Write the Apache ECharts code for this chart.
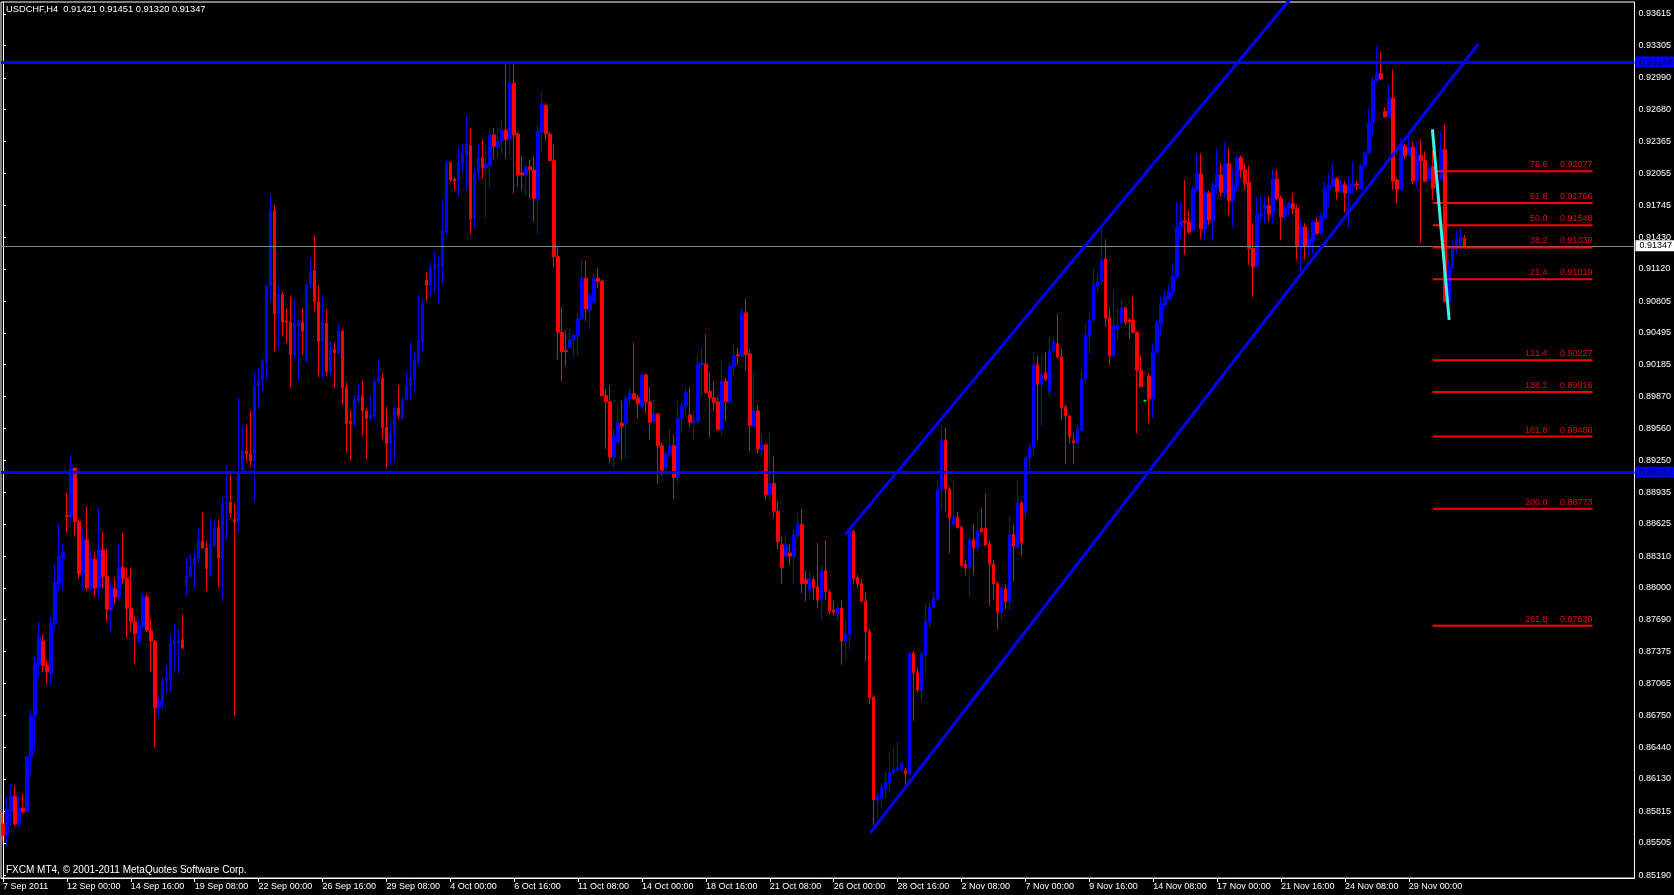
<!DOCTYPE html>
<html><head><meta charset="utf-8">
<script src="https://cdn.jsdelivr.net/npm/echarts@6/dist/echarts.min.js"></script>
<style>html,body{margin:0;padding:0;background:#000;overflow:hidden}#c{width:1674px;height:895px}</style>
</head><body><div id="c"></div>
<script>
const symbolInfo = 'USDCHF,H4  0.91421 0.91451 0.91320 0.91347';
const copyright = 'FXCM MT4, \u00a9 2001-2011 MetaQuotes Software Corp.';
const timeLabels = ['7 Sep 2011','12 Sep 00:00','14 Sep 16:00','19 Sep 08:00','22 Sep 00:00','26 Sep 16:00','29 Sep 08:00','4 Oct 00:00','6 Oct 16:00','11 Oct 08:00','14 Oct 00:00','18 Oct 16:00','21 Oct 08:00','26 Oct 00:00','28 Oct 16:00','2 Nov 08:00','7 Nov 00:00','9 Nov 16:00','14 Nov 08:00','17 Nov 00:00','21 Nov 16:00','24 Nov 08:00','29 Nov 00:00'];
const barsPerLabel = 16;
const slotCount = 409;
const priceTicks = [0.93615,0.93305,0.92990,0.92680,0.92365,0.92055,0.91745,0.91430,0.91120,0.90805,0.90495,0.90185,0.89870,0.89560,0.89250,0.88935,0.88625,0.88310,0.88000,0.87690,0.87375,0.87065,0.86750,0.86440,0.86130,0.85815,0.85505,0.85190];
const priceMin = 0.85161, priceMax = 0.93732;

// H4 bars, prices in 1/10000 (pips)
const openPips = [
8569,8558,8581,8596,8569,8584,8581,8635,8675,8725,
8748,8724,8716,8765,8804,8829,8871,8870,8917,8865,
8814,8847,8799,8828,8800,8837,8811,8779,8799,8791,
8820,8809,8780,8767,8747,8762,8791,8758,8748,8683,
8688,8709,8710,8745,8746,8749,8803,8811,8822,8828,
8846,8839,8812,8842,8859,8829,8882,8884,8867,8864,
8914,8934,8931,8924,8998,9003,9021,9095,9169,9068,
9087,9061,9060,9028,9056,9060,9022,9097,9110,9080,
9041,9059,9011,9033,9030,9051,8996,8963,8960,8983,
8988,8973,8965,8968,9002,9005,8957,8941,8950,8976,
8967,8984,8998,9004,9022,9041,9101,9096,9112,9115,
9115,9148,9216,9200,9198,9215,9223,9233,9162,9206,
9221,9211,9213,9243,9231,9237,9248,9239,9294,9244,
9206,9204,9212,9209,9180,9246,9272,9244,9218,9124,
9050,9032,9035,9043,9046,9063,9103,9072,9079,9103,
9100,8988,8982,8928,8942,8961,8960,8985,8990,8986,
8977,9008,8982,8963,8970,8939,8918,8930,8939,8908,
8966,8978,8969,8962,8963,9018,9019,8992,8986,8982,
8955,9002,8982,9016,9028,9027,9069,9029,8958,8973,
8935,8940,8891,8902,8875,8842,8831,8834,8831,8851,
8862,8808,8798,8808,8801,8788,8817,8796,8778,8775,
8780,8748,8754,8855,8810,8804,8787,8757,8693,8592,
8594,8603,8609,8619,8622,8622,8621,8618,8736,8717,
8700,8734,8766,8781,8789,8896,8944,8897,8862,8869,
8859,8823,8820,8847,8839,8858,8858,8843,8823,8804,
8776,8799,8787,8852,8840,8883,8874,8927,8937,9018,
8999,9010,8992,9032,9039,9026,8977,8968,8944,8942,
8954,9004,9046,9062,9095,9100,9122,9064,9027,9053,
9059,9074,9062,9062,9050,9013,8983,9007,8985,9030,
9059,9077,9082,9090,9104,9153,9159,9158,9150,9189,
9205,9151,9186,9159,9192,9204,9186,9215,9179,9192,
9221,9209,9197,9132,9114,9164,9171,9174,9166,9200,
9181,9163,9172,9176,9171,9135,9153,9135,9139,9158,
9147,9162,9190,9193,9200,9188,9194,9186,9193,9195,
9190,9213,9225,9255,9296,9303,9266,9261,9279,9199,
9190,9232,9223,9231,9199,9223,9218,9200,9212,9191,
9200,9229,9080,9113,9132,9135,9142.1];
const highPips = [
8580,8595,8608,8606,8597,8598,8636,8680,8734,8767,
8755,8729,8773,8823,8863,8843,8893,8929,8918,8867,
8858,8880,8838,8836,8879,8855,8838,8804,8810,8843,
8853,8819,8819,8772,8768,8795,8794,8770,8749,8694,
8712,8724,8753,8765,8760,8774,8829,8832,8837,8859,
8874,8845,8868,8866,8867,8888,8920,8911,8883,8986,
8959,8959,8974,9010,9015,9024,9097,9185,9174,9096,
9090,9073,9085,9083,9063,9074,9098,9122,9145,9096,
9085,9073,9041,9040,9058,9053,9001,8974,8988,8999,
9002,8976,8988,9005,9023,9010,8977,8962,8977,8998,
8986,9010,9040,9031,9087,9082,9108,9118,9130,9125,
9180,9218,9217,9202,9232,9234,9263,9250,9212,9233,
9239,9232,9249,9250,9251,9258,9313,9313,9314,9246,
9222,9214,9219,9222,9252,9287,9274,9246,9234,9135,
9075,9052,9053,9048,9069,9122,9120,9088,9108,9112,
9102,8994,8998,8955,8977,8983,8987,8995,9040,8989,
9010,9010,8997,8984,8971,8942,8933,8955,8950,8983,
8982,8997,8996,8972,9028,9036,9048,9011,9002,8987,
9022,9005,9021,9039,9035,9073,9083,9033,9010,8979,
8951,8941,8952,8929,8884,8850,8852,8843,8858,8874,
8877,8817,8815,8811,8844,8821,8846,8798,8788,8785,
8788,8769,8857,8857,8813,8809,8796,8760,8695,8601,
8609,8621,8638,8644,8649,8630,8624,8737,8738,8722,
8737,8785,8785,8797,8905,8959,8957,8899,8905,8874,
8861,8827,8850,8862,8874,8878,8892,8846,8827,8806,
8800,8803,8870,8862,8905,8885,8928,8941,9031,9027,
9027,9031,9045,9046,9068,9034,8979,8969,8951,8960,
9013,9060,9069,9112,9107,9152,9141,9074,9091,9072,
9082,9075,9064,9085,9051,9027,8984,9010,9039,9062,
9085,9091,9096,9116,9178,9177,9199,9170,9193,9225,
9225,9189,9189,9197,9230,9216,9237,9230,9210,9223,
9223,9215,9213,9157,9182,9184,9183,9183,9209,9209,
9184,9176,9178,9186,9175,9160,9157,9149,9160,9162,
9167,9197,9206,9214,9202,9201,9198,9202,9217,9198,
9215,9227,9269,9300,9331,9324,9270,9292,9307,9201,
9240,9234,9241,9236,9236,9239,9227,9212,9228,9205,
9247,9253,9121,9140,9149,9152,9145.1];
const lowPips = [
8552,8548,8567,8567,8566,8579,8580,8617,8641,8713,
8717,8706,8704,8759,8797,8797,8854,8864,8851,8809,
8798,8797,8797,8792,8790,8800,8767,8756,8784,8788,
8803,8751,8757,8726,8746,8759,8757,8718,8644,8673,
8682,8697,8699,8719,8716,8741,8793,8810,8799,8824,
8838,8797,8811,8840,8800,8787,8846,8868,8675,8855,
8913,8923,8919,8884,8976,8992,9003,9082,9031,9035,
9047,9040,8996,9024,9002,9028,9021,9092,9071,9006,
9005,9008,9007,8996,9028,8979,8932,8924,8958,8981,
8948,8926,8964,8966,9001,8946,8917,8920,8923,8966,
8964,8983,8984,8991,9018,9031,9080,9085,9089,9077,
9098,9145,9197,9189,9182,9206,9189,9146,9153,9200,
9200,9162,9192,9220,9220,9225,9220,9222,9186,9193,
9189,9184,9181,9158,9146,9226,9238,9217,9114,9024,
9002,9017,9033,9025,9027,9062,9061,9053,9078,9093,
8987,8936,8922,8917,8941,8926,8927,8979,8984,8966,
8977,8971,8945,8961,8902,8910,8910,8928,8887,8901,
8953,8969,8957,8944,8960,8987,8990,8947,8974,8955,
8949,8963,8981,9007,9018,9026,9013,8934,8957,8932,
8930,8886,8886,8868,8838,8804,8830,8822,8803,8848,
8795,8787,8789,8788,8780,8769,8788,8774,8773,8769,
8725,8728,8740,8803,8800,8786,8728,8686,8568,8575,
8585,8595,8600,8617,8620,8620,8607,8616,8670,8698,
8689,8716,8761,8780,8788,8876,8874,8834,8861,8858,
8820,8813,8792,8813,8837,8854,8841,8782,8788,8759,
8768,8779,8778,8807,8838,8832,8868,8916,8930,8944,
8959,9002,8989,9029,9024,8965,8921,8941,8921,8941,
8953,9001,9029,9060,9090,9097,9056,9018,9026,9043,
9057,9057,9043,9049,8951,8996,8982,8961,8966,9029,
9047,9073,9081,9085,9102,9142,9126,9146,9149,9186,
9142,9140,9155,9139,9186,9183,9181,9165,9153,9188,
9201,9189,9116,9085,9113,9159,9156,9158,9156,9179,
9140,9160,9164,9166,9121,9110,9121,9126,9127,9145,
9144,9161,9173,9192,9180,9186,9167,9153,9185,9189,
9189,9212,9224,9242,9294,9297,9260,9259,9189,9176,
9189,9220,9222,9195,9191,9138,9197,9197,9180,9186,
9198,9079,9062,9112,9127,9132,9132.0];
const closePips = [
8558,8583,8596,8569,8584,8581,8635,8675,8726,8752,
8724,8718,8765,8805,8831,8835,8870,8917,8865,8814,
8847,8800,8828,8800,8837,8811,8779,8801,8791,8820,
8809,8780,8767,8755,8763,8791,8758,8748,8683,8690,
8709,8711,8746,8747,8748,8741,8811,8821,8829,8846,
8839,8819,8842,8859,8829,8882,8883,8873,8864,8914,
8934,8931,8924,8998,9003,9022,9095,9169,9068,9087,
9060,9060,9028,9058,9060,9051,9097,9109,9080,9041,
9059,9012,9033,9030,9052,8996,8961,8961,8984,8988,
8973,8966,8969,9002,9005,8957,8941,8951,8976,8969,
8984,8998,9005,9023,9042,9078,9096,9113,9116,9116,
9149,9216,9199,9198,9216,9224,9234,9161,9206,9221,
9211,9214,9243,9232,9237,9248,9239,9294,9243,9204,
9204,9212,9209,9181,9247,9274,9244,9218,9124,9050,
9031,9031,9043,9047,9063,9103,9073,9086,9103,9100,
8988,8982,8928,8949,8961,8958,8985,8990,8985,8980,
9008,8982,8962,8970,8939,8915,8931,8939,8908,8966,
8978,8991,8962,8963,9019,9020,8991,8986,8981,8955,
9002,8982,9017,9027,9027,9069,9028,8959,8973,8936,
8940,8891,8902,8875,8845,8820,8842,8831,8852,8862,
8804,8804,8809,8800,8788,8817,8796,8777,8776,8780,
8748,8755,8855,8809,8804,8787,8757,8693,8593,8597,
8605,8610,8619,8622,8624,8628,8618,8736,8717,8700,
8735,8767,8781,8790,8896,8944,8897,8868,8869,8859,
8822,8820,8847,8839,8856,8855,8842,8823,8804,8776,
8799,8787,8852,8841,8883,8844,8927,8937,9018,8999,
9009,9004,9032,9041,9026,8976,8968,8948,8942,8955,
9004,9047,9062,9096,9100,9121,9064,9027,9057,9057,
9074,9060,9060,9050,9013,8997,8983,8985,9031,9060,
9078,9084,9090,9105,9153,9159,9158,9148,9190,9205,
9151,9186,9160,9194,9204,9187,9215,9179,9193,9220,
9209,9196,9132,9114,9165,9166,9174,9166,9200,9181,
9163,9172,9176,9171,9135,9153,9135,9141,9158,9147,
9163,9191,9194,9201,9188,9194,9186,9194,9195,9194,
9213,9225,9255,9297,9303,9298,9261,9279,9198,9190,
9233,9223,9231,9198,9223,9218,9198,9210,9191,9200,
9229,9080,9114,9132,9141,9143,9134.7];

const supportResistance = [0.93144, 0.89132];
const bidPrice = 0.91347;
// trend lines: [bar index, price]
const channelUpper = [[210.9, 0.88523], [323, 0.93792]];
const channelLower = [[217.2, 0.85605], [369.4, 0.93322]];
const fiboSwing = [[357.9, 0.92487], [362.1, 0.90621]];
const fiboLevels = ['78.6','61.8','50.0','38.2','21.4','121.4','138.2','161.8','200.0','261.8'];
const fiboPrices = [0.92077,0.91766,0.91548,0.91330,0.91019,0.90227,0.89916,0.89480,0.88773,0.87630];
const fiboSpan = [358, 398];

const FONT = 'Liberation Sans';
const slots = Array.from({length: slotCount}, (_, i) => String(i));
const candles = openPips.map((o, i) => [o / 1e4, closePips[i] / 1e4, lowPips[i] / 1e4, highPips[i] / 1e4]);
const lastLabelIdx = (timeLabels.length - 1) * barsPerLabel;
const showTick = (idx) => idx % barsPerLabel === 0 && idx <= lastLabelIdx;

const lineSeries = (data, color, width, z) => ({
  type: 'line', xAxisIndex: 1, yAxisIndex: 0, data, showSymbol: false, symbol: 'none',
  lineStyle: { color, width }, clip: true, silent: true, z: z || 5, animation: false
});

const series = [
  {
    type: 'candlestick', xAxisIndex: 0, yAxisIndex: 0, data: candles, barWidth: 3,
    itemStyle: { color: '#0000ff', color0: '#ff0000', borderColor: '#0000ff', borderColor0: '#ff0000', borderColorDoji: '#00ff00', borderWidth: 1 },
    z: 3,
    markLine: {
      silent: true, symbol: ['none', 'none'], animation: false, precision: 5,
      data: [
        { yAxis: bidPrice, lineStyle: { color: '#778899', width: 1, type: 'solid' },
          label: { show: true, position: 'end', distance: 1, formatter: bidPrice.toFixed(5), color: '#000', backgroundColor: '#ffffff', fontSize: 9, fontFamily: FONT, padding: [1, 8, 0, 4], lineHeight: 10 } },
        ...supportResistance.map(v => ({ yAxis: v, lineStyle: { color: '#0000ff', width: 3, type: 'solid' },
          label: { show: true, position: 'end', distance: 1, formatter: v.toFixed(5), color: '#000033', backgroundColor: '#0000ff', fontSize: 9, fontFamily: FONT, padding: [1, 8, 0, 4], lineHeight: 10 } }))
      ]
    }
  },
  lineSeries(channelUpper, '#0000ff', 3, 6),
  lineSeries(channelLower, '#0000ff', 3, 6),
  ...fiboPrices.map(p => lineSeries([[fiboSpan[0], p], [fiboSpan[1], p]], '#ff0000', 2, 7)),
  lineSeries(fiboSwing, '#3cf2e6', 3, 8),
  {
    type: 'custom', xAxisIndex: 1, yAxisIndex: 0, silent: true, z: 9, clip: false,
    data: fiboPrices.map((p, i) => [fiboSpan[1], p, i]),
    renderItem: (params, api) => {
      const pt = api.coord([api.value(0), api.value(1)]);
      const i = api.value(2);
      return {
        type: 'text', x: pt[0], y: pt[1] - 2,
        style: { text: fiboLevels[i] + '     ' + fiboPrices[i].toFixed(5), fill: '#e80000',
          font: '9px "Liberation Sans"', textAlign: 'right', textVerticalAlign: 'bottom' }
      };
    }
  }
];

const chart = echarts.init(document.getElementById('c'), null, { renderer: 'canvas' });
chart.setOption({
  backgroundColor: '#000000',
  animation: false,
  title: [
    { text: symbolInfo, left: 6, top: 5, padding: 0, textStyle: { color: '#ffffff', fontSize: 9.3, fontWeight: 'normal', fontFamily: FONT } },
    { text: copyright, left: 6, top: 865, padding: 0, textStyle: { color: '#ffffff', fontSize: 10, fontWeight: 'normal', fontFamily: FONT } }
  ],
  grid: { left: 1, top: 2, width: 1636, height: 876, show: true, borderColor: '#ffffff', borderWidth: 1, backgroundColor: 'transparent', containLabel: false },
  xAxis: [
    { type: 'category', data: slots, boundaryGap: true, gridIndex: 0,
      axisLine: { show: true, lineStyle: { color: '#ffffff', width: 1 } },
      axisTick: { show: true, alignWithLabel: true, length: 4, interval: (idx) => showTick(idx), lineStyle: { color: '#ffffff' } },
      axisLabel: { show: true, interval: (idx) => showTick(idx), align: 'left', margin: 4, color: '#ffffff', fontSize: 9, fontFamily: FONT,
        formatter: (v, idx) => showTick(idx) ? timeLabels[idx / barsPerLabel] : '' },
      splitLine: { show: false } },
    { type: 'value', gridIndex: 0, show: false, min: -0.5, max: slotCount - 0.5 }
  ],
  yAxis: [{
    type: 'value', position: 'right', min: priceMin, max: priceMax, scale: true,
    splitLine: { show: false },
    axisLine: { show: true, lineStyle: { color: '#ffffff', width: 1 } },
    axisTick: { show: true, length: 3, inside: false, customValues: priceTicks, lineStyle: { color: '#ffffff' } },
    axisLabel: { show: true, customValues: priceTicks, margin: 4, color: '#ffffff', fontSize: 9, fontFamily: FONT, formatter: (v) => v.toFixed(5) }
  }],
  series
});
</script>
</body></html>
